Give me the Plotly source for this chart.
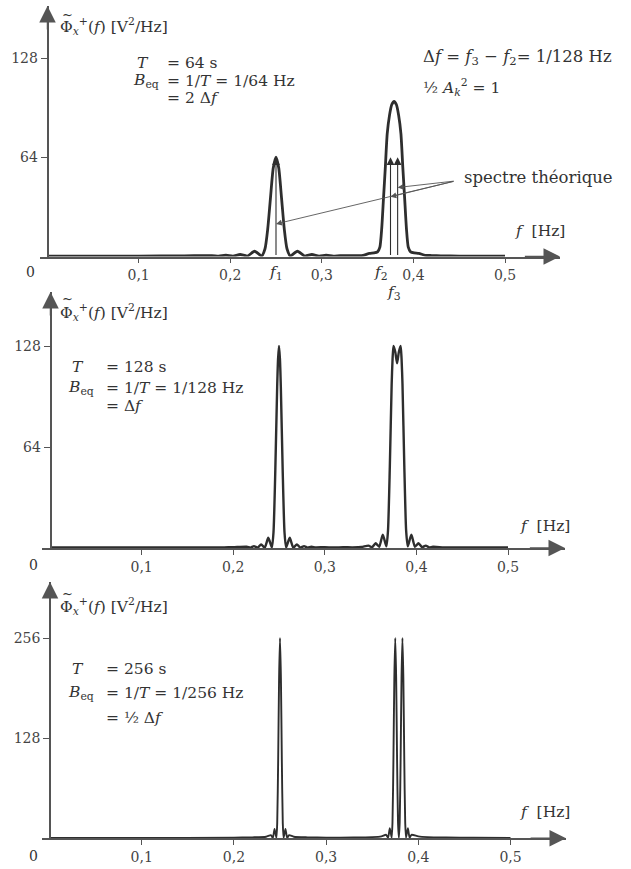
import plotly.graph_objects as go

W, H = 631, 869

# ---------------- data: estimated power spectral density, three record lengths ----------------
# T = 64 s
F_T64 = [0.000, 0.050, 0.100, 0.150, 0.180, 0.1875, 0.1953, 0.2031, 0.2109, 0.2188, 0.2266, 0.2344,
         0.2380, 0.2410, 0.2440, 0.2470, 0.2500, 0.2530, 0.2560, 0.2590, 0.2620, 0.2656, 0.2734,
         0.2813, 0.2891, 0.2969, 0.3047, 0.3125, 0.320, 0.330, 0.340, 0.345, 0.352, 0.357, 0.3609,
         0.3634, 0.3654, 0.3674, 0.3694, 0.3714, 0.3739, 0.3764, 0.3789, 0.3814, 0.3839, 0.3864,
         0.3884, 0.3904, 0.3924, 0.3944, 0.3969, 0.4009, 0.4059, 0.4129, 0.420, 0.430, 0.450, 0.500]
PSD_T64 = [0.3, 0.3, 0.3, 0.4, 0.6, 0.3, 0.8, 0.3, 1.3, 0.3, 3.4, 0.4,
           5, 18, 38, 57, 64, 57, 38, 18, 5, 0.4, 3.4,
           0.3, 1.3, 0.3, 0.8, 0.3, 0.6, 0.5, 0.6, 0.8, 2.0, 2.3, 3,
           6, 18, 38, 58, 79, 91, 98, 100, 98, 91, 79,
           58, 38, 18, 6, 3, 2.3, 2.0, 0.8, 0.6, 0.4, 0.3, 0.3]

# T = 128 s
F_T128 = [0.000, 0.100, 0.150, 0.190, 0.200, 0.2148, 0.2188, 0.2227, 0.2266, 0.2305, 0.2344, 0.2383,
          0.2422, 0.2440, 0.2460, 0.2480, 0.2490, 0.2500, 0.2510, 0.2520, 0.2540, 0.2560, 0.2578,
          0.2617, 0.2656, 0.2695, 0.2734, 0.2773, 0.2813, 0.2852, 0.290, 0.300, 0.310, 0.320, 0.330,
          0.340, 0.3477, 0.3516, 0.3555, 0.3594, 0.3633, 0.3672, 0.3690, 0.3710, 0.3730, 0.3740,
          0.3750, 0.3770, 0.3789, 0.3808, 0.3828, 0.3838, 0.3848, 0.3868, 0.3888, 0.3906, 0.3945,
          0.3984, 0.4023, 0.4063, 0.4102, 0.4141, 0.4180, 0.430, 0.450, 0.500]
PSD_T128 = [0.3, 0.3, 0.3, 0.4, 0.5, 0.8, 0.2, 1.2, 0.2, 2.3, 0.2, 6.5,
            0.3, 10, 50, 102, 120, 128, 120, 102, 50, 10, 0.3,
            6.5, 0.2, 2.3, 0.2, 1.2, 0.2, 0.8, 0.4, 0.5, 0.3, 0.5, 0.4,
            0.6, 1.5, 0.5, 3, 0.8, 8.5, 1, 11, 52, 104, 120,
            128, 124, 117, 124, 128, 120, 104, 52, 11, 1, 8.5,
            0.8, 3, 0.5, 1.5, 0.3, 0.8, 0.4, 0.3, 0.3]

# T = 256 s
F_T256 = [0.000, 0.100, 0.200, 0.220, 0.235, 0.2402, 0.2422, 0.2441, 0.2461, 0.2470, 0.2480, 0.2490,
          0.2500, 0.2510, 0.2520, 0.2530, 0.2539, 0.2559, 0.2578, 0.2598, 0.265, 0.280, 0.300, 0.330,
          0.350, 0.360, 0.3652, 0.3672, 0.3691, 0.3711, 0.3720, 0.3730, 0.3740, 0.3750, 0.3760,
          0.3770, 0.3780, 0.3789, 0.3798, 0.3808, 0.3818, 0.3828, 0.3838, 0.3848, 0.3858, 0.3867,
          0.3887, 0.3906, 0.3926, 0.400, 0.410, 0.430, 0.460, 0.500]
PSD_T256 = [0.3, 0.4, 0.8, 1.2, 2, 4, 0.5, 12, 0.5, 20, 99, 205,
            256, 205, 99, 20, 0.5, 12, 0.5, 4, 2, 1.2, 0.8, 1.0,
            1.5, 2.5, 4.5, 0.8, 13, 0.8, 20, 99, 205, 256, 205,
            99, 20, 0.8, 20, 99, 205, 256, 205, 99, 20, 0.8,
            13, 0.8, 4.5, 2.5, 1.5, 1.0, 0.7, 0.5]

# theoretical line spectrum (Dirac arrows) at f1, f2, f3
F_THEO = [0.25, 0.375, 0.3828]
H_THEO = [64, 64, 64]
THEO_ARROW_Y = [21, 38.5, 44.5]      # where the "spectre théorique" pointers land

X_TICKS = [0.1, 0.2, 0.3, 0.4, 0.5]
X_TICK_TEXT = ["0,1", "0,2", "0,3", "0,4", "0,5"]
Y_TICKS = [[64, 128], [64, 128], [128, 256]]
Y_TICK_TEXT = [["64", "128"], ["64", "128"], ["128", "256"]]

SERIES = [(F_T64, PSD_T64), (F_T128, PSD_T128), (F_T256, PSD_T256)]

# ---------------- page geometry of the three panels (pixels) ----------------
PANELS = [
    dict(x0=47.0, sx=916.0, x_start=40, x_tip=560, x_yaxis=47.5, base=256.5, y_tip=6, sy=1.5508, lw=2.8),
    dict(x0=50.0, sx=916.0, x_start=42, x_tip=565, x_yaxis=50.5, base=548.0, y_tip=292, sy=1.578, lw=2.4),
    dict(x0=49.5, sx=922.0, x_start=42, x_tip=566, x_yaxis=50.0, base=838.3, y_tip=582, sy=0.7824, lw=1.9),
]

INK = "#2e2e2e"
AXIS = "#555555"
FONT = "DejaVu Serif, Liberation Serif, serif"
TXT = 15.5
TICK = 14

fig = go.Figure()
layout = dict(
    width=W, height=H, margin=dict(l=0, r=0, t=0, b=0),
    paper_bgcolor="white", plot_bgcolor="white", showlegend=False,
    font=dict(family=FONT, color="#333333", size=TXT),
)
annotations = []

for i, (P, (fx, py)) in enumerate(zip(PANELS, SERIES)):
    n = "" if i == 0 else str(i + 1)
    xr = [(P["x_start"] - P["x0"]) / P["sx"], (P["x_tip"] - P["x0"]) / P["sx"]]
    ymax = (P["base"] - P["y_tip"]) / P["sy"]
    layout["xaxis" + n] = dict(
        domain=[P["x_start"] / W, P["x_tip"] / W], range=xr, anchor="y" + n,
        showline=True, linecolor=AXIS, linewidth=1.5, showgrid=False, zeroline=False,
        ticks="outside", ticklen=5, tickwidth=1.2, tickcolor=AXIS,
        tickvals=X_TICKS, ticktext=X_TICK_TEXT, tickfont=dict(family=FONT, size=TICK, color="#444"),
        fixedrange=True,
    )
    layout["yaxis" + n] = dict(
        domain=[1 - P["base"] / H, 1 - P["y_tip"] / H], range=[0, ymax], anchor="free",
        position=P["x_yaxis"] / W,
        showline=True, linecolor=AXIS, linewidth=1.5, showgrid=False, zeroline=False,
        ticks="outside", ticklen=6, tickwidth=1.2, tickcolor=AXIS,
        tickvals=Y_TICKS[i], ticktext=Y_TICK_TEXT[i], tickfont=dict(family=FONT, size=TICK, color="#444"),
        fixedrange=True,
    )
    fig.add_trace(go.Scatter(x=fx, y=py, mode="lines", xaxis="x" + n, yaxis="y" + n,
                             line=dict(color=INK, width=P["lw"], shape="spline", smoothing=0.6),
                             hoverinfo="skip"))

    # arrowheads on both axes
    x_tip = xr[1]
    annotations.append(dict(xref="x" + n, yref="y" + n, axref="x" + n, ayref="y" + n,
                            x=x_tip, y=0, ax=x_tip - 0.04, ay=0, text="", showarrow=True,
                            arrowhead=2, arrowsize=2.2, arrowwidth=1.5, arrowcolor=AXIS))
    x_ax = (P["x_yaxis"] - P["x0"]) / P["sx"]
    annotations.append(dict(xref="x" + n, yref="y" + n, axref="x" + n, ayref="y" + n,
                            x=x_ax, y=ymax, ax=x_ax, ay=ymax - 25 / P["sy"], text="", showarrow=True,
                            arrowhead=2, arrowsize=2.2, arrowwidth=1.5, arrowcolor=AXIS))

# theoretical Dirac lines in the first panel
for f, h in zip(F_THEO, H_THEO):
    annotations.append(dict(xref="x", yref="y", axref="x", ayref="y", x=f, y=h, ax=f, ay=0,
                            text="", showarrow=True, arrowhead=2, arrowsize=1.4, arrowwidth=1.1,
                            arrowcolor=INK))

# pointers from the "spectre théorique" label
P0 = PANELS[0]
tail_x = (455 - P0["x0"]) / P0["sx"]
tail_y = (P0["base"] - 181) / P0["sy"]
for f, yv in zip(F_THEO, THEO_ARROW_Y):
    annotations.append(dict(xref="x", yref="y", axref="x", ayref="y", x=f, y=yv, ax=tail_x, ay=tail_y,
                            text="", showarrow=True, arrowhead=2, arrowsize=1.3, arrowwidth=0.9,
                            arrowcolor="#555"))


def note(text, px, py, size=TXT, xanchor="left"):
    annotations.append(dict(xref="paper", yref="paper", x=px / W, y=1 - py / H, text=text,
                            showarrow=False, xanchor=xanchor, yanchor="middle",
                            font=dict(family=FONT, size=size, color="#333")))


PHI = "Φ<sub><i>x</i></sub><sup>+</sup>(<i>f</i>)\u00a0[V<sup>2</sup>/Hz]"
FHZ = "<i>f</i>\u00a0\u00a0[Hz]"


def density_label(py):
    # Φ with a tilde set above it
    note(PHI, 58, py)
    note("~", 67, py - 13, 13, "center")


# panel 1 texts
density_label(27)
note("<i>T</i>", 135, 63)
note("= 64 s", 165, 63)
note("<i>B</i><sub>eq</sub>", 131, 81)
note("= 1/<i>T</i> = 1/64 Hz", 165, 81)
note("= 2 Δ<i>f</i>", 165, 98)
note("Δ<i>f</i> = <i>f</i><sub>3</sub> − <i>f</i><sub>2</sub>= 1/128 Hz", 421, 58, 16.5)
note("½ <i>A</i><sub><i>k</i></sub><sup>2</sup> = 1", 421, 87)
note("spectre théorique", 462, 177, 16.5)
note(FHZ, 513, 231)
note("0", 30, 272, TICK, "center")
note("<i>f</i><sub>1</sub>", 276, 273, TXT, "center")
note("<i>f</i><sub>2</sub>", 381, 273, TXT, "center")
note("<i>f</i><sub>3</sub>", 394, 293, TXT, "center")

# panel 2 texts
density_label(312)
note("<i>T</i>", 70, 367)
note("= 128 s", 104, 367)
note("<i>B</i><sub>eq</sub>", 66, 388)
note("= 1/<i>T</i> = 1/128 Hz", 104, 388)
note("= Δ<i>f</i>", 104, 406)
note(FHZ, 518, 526)
note("0", 33, 565, TICK, "center")

# panel 3 texts
density_label(606)
note("<i>T</i>", 70, 669)
note("= 256 s", 104, 669)
note("<i>B</i><sub>eq</sub>", 66, 693)
note("= 1/<i>T</i> = 1/256 Hz", 104, 693)
note("= ½ Δ<i>f</i>", 104, 718)
note(FHZ, 518, 812)
note("0", 33, 856, TICK, "center")

layout["annotations"] = annotations
fig.update_layout(**layout)
fig.write_html("out.html")
